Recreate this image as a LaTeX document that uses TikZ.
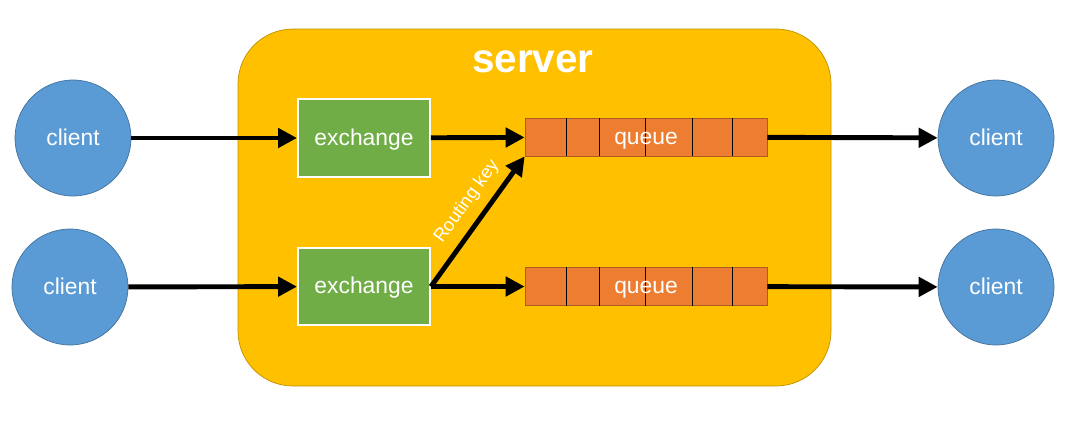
\documentclass[tikz,border=0pt]{standalone}
\usepackage{fontspec}
\setmainfont{Liberation Sans}
\usetikzlibrary{arrows.meta}
\definecolor{serverfill}{HTML}{FFC000}
\definecolor{serverline}{HTML}{BF9000}
\definecolor{clientfill}{HTML}{5B9BD5}
\definecolor{clientline}{HTML}{41719C}
\definecolor{exchfill}{HTML}{70AD47}
\definecolor{queuefill}{HTML}{ED7D31}
\definecolor{queueline}{HTML}{AE5A21}
\tikzset{
	label/.style = {text=white, font=\fontsize{13}{15}\selectfont, text height=0.95em, text depth=0.15em},
	client/.style = {label, circle, fill=clientfill, draw=clientline, thin, minimum size=2.32cm, inner sep=0pt},
	exch/.style = {label, rectangle, fill=exchfill, draw=white, line width=1.1pt, minimum width=2.64cm, minimum height=1.55cm, inner sep=0pt},
	queuebox/.style = {rectangle, fill=queuefill, draw=queueline, thin, minimum width=4.84cm, minimum height=0.76cm, inner sep=0pt},
	arr/.style = {line width=2.8pt, -{Triangle[length=0.38cm,width=0.38cm]}}
}
\begin{document}
\begin{tikzpicture}[x=0.02cm,y=0.02cm]
		\useasboundingbox (0,0) rectangle (1091,424);
		\draw[fill=serverfill,draw=serverline,rounded corners=1.1cm] (238,38) rectangle (831,395);
		\node[text=white,font=\bfseries\fontsize{23}{27}\selectfont] (srv) at (533,362) {server};
		\node[client] (c1) at (73,286) {client};
		\node[client] (c2) at (70,137) {client};
		\node[client] (c3) at (996,286) {client};
		\node[client] (c4) at (996,137) {client};
		\node[exch] (e1) at (364,286) {exchange};
		\node[exch] (e2) at (364,137.5) {exchange};
		\node[queuebox] (q1) at (646,287) {};
		\node[queuebox] (q2) at (646,137.5) {};
		\foreach \q in {q1,q2} {
			\foreach \d in {42,75,121,168,208}
				\draw[black,thin] ([xshift=\d*0.02cm]\q.south west) -- ([xshift=\d*0.02cm]\q.north west);
			\node[label] at (\q) {queue};
		}
		\draw[arr] (c1) -- (e1);
		\draw[arr] (c2) -- (e2);
		\draw[arr] (e1) -- (q1);
		\draw[arr] (e2) -- (q2);
		\draw[arr] (e2.east) -- (q1.south west) node[pos=0.56,sloped,above=2pt,text=white,font=\fontsize{10.5}{12}\selectfont] {Routing key};
		\draw[arr] (q1) -- (c3);
		\draw[arr] (q2) -- (c4);
	\end{tikzpicture}
\end{document}
